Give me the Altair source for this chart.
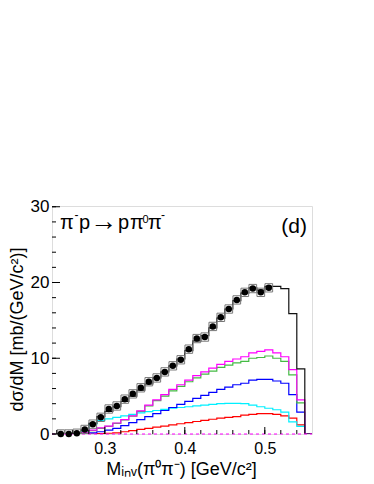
import altair as alt
import pandas as pd

# ---------------- data ----------------
BIN_W = 0.01
bin_lo = [round(0.24 + BIN_W * i, 2) for i in range(33)]  # 0.24 .. 0.56 (last two empty)

total   = [0.0, 0.0, 0.1, 0.5, 1.4, 2.3, 3.0, 3.6, 4.3, 5.0, 5.8, 6.6, 7.4, 8.2, 9.0, 9.9,
           11.0, 12.3, 13.0, 14.0, 15.3, 16.5, 17.6, 18.6, 19.3, 19.0, 19.5, 19.5, 19.2, 15.9, 8.6, 0.0, 0.0]
magenta = [0.0, 0.0, 0.05, 0.15, 0.5, 0.8, 1.05, 1.45, 1.9, 2.4, 3.05, 3.8, 4.5, 5.2, 5.9, 6.5,
           7.1, 7.7, 8.2, 8.7, 9.2, 9.6, 9.9, 10.2, 10.7, 10.9, 11.1, 10.7, 10.2, 8.5, 4.5, 0.0, 0.0]
green   = [0.0, 0.0, 0.05, 0.15, 0.45, 0.75, 1.0, 1.4, 1.85, 2.35, 3.0, 3.7, 4.4, 5.0, 5.7, 6.3,
           6.9, 7.4, 7.9, 8.3, 8.8, 9.1, 9.4, 9.6, 10.0, 10.1, 10.3, 10.0, 9.6, 7.8, 4.1, 0.0, 0.0]
blue    = [0.0, 0.0, 0.0, 0.05, 0.15, 0.3, 0.5, 0.75, 1.1, 1.5, 1.9, 2.3, 2.7, 3.1, 3.5, 3.9,
           4.3, 4.7, 5.1, 5.5, 5.9, 6.2, 6.5, 6.7, 7.1, 7.2, 7.2, 7.0, 6.7, 5.2, 2.9, 0.0, 0.0]
cyan    = [0.0, 0.0, 0.05, 0.4, 1.3, 1.8, 2.0, 2.2, 2.4, 2.6, 2.8, 2.95, 3.1, 3.25, 3.4, 3.5,
           3.6, 3.7, 3.8, 3.9, 4.0, 4.05, 4.05, 4.0, 3.8, 3.6, 3.4, 3.2, 2.9, 1.6, 1.0, 0.0, 0.0]
red     = [0.0, 0.0, 0.0, 0.0, 0.0, 0.05, 0.1, 0.15, 0.3, 0.45, 0.6, 0.75, 0.9, 1.05, 1.2, 1.35,
           1.5, 1.65, 1.8, 1.95, 2.1, 2.2, 2.3, 2.5, 2.6, 2.7, 2.7, 2.6, 2.4, 2.1, 1.2, 0.0, 0.0]

data_x = [round(0.245 + BIN_W * i, 3) for i in range(27)]
data_y = [0.0, 0.0, 0.1, 0.6, 1.3, 2.2, 3.3, 3.7, 4.6, 5.3, 6.1, 6.9, 7.4, 8.2, 9.0, 9.8,
          11.2, 12.6, 12.8, 14.2, 15.4, 16.5, 17.7, 18.7, 19.2, 18.7, 19.3]
sys_err = 0.55

x_major = [0.3, 0.4, 0.5]
x_minor = [round(0.24 + 0.02 * i, 2) for i in range(16)]
y_major = [0, 10, 20, 30]
y_minor = list(range(0, 31, 2))

series = [("red", red, "#ff0000"), ("cyan", cyan, "#00f0ff"), ("blue", blue, "#0000ff"),
          ("green", green, "#44bb44"), ("magenta", magenta, "#ff00ff"), ("total", total, "#111111")]

# reaction label pieces (ROOT-like TLatex): text, font size, left x, baseline y (px in plot area)
reac_text = ["π", "-", "p", "→", "p", "π", "0", "π", "-"]
reac_size = [20, 12, 20, 27, 20, 20, 11, 20, 12]
reac_x    = [8, 22.5, 27, 38, 66, 78, 90.5, 96, 109]
reac_y    = [23, 13, 23, 24, 23, 23, 17, 23, 13]

# ---------------- chart ----------------
W, H = 260, 228
XD = [0.234, 0.559]
YD = [0, 30.1]
FONT = "Liberation Sans"

xs = alt.Scale(domain=XD, nice=False, zero=False)
ys = alt.Scale(domain=YD, nice=False, zero=False)

hist_rows = []
for name, vals, col in series:
    for xv, yv in zip(bin_lo, vals):
        hist_rows.append({"x": xv, "y": yv, "comp": name})
hist_df = pd.DataFrame(hist_rows)

base_x = alt.X("x:Q", scale=xs,
               axis=alt.Axis(values=x_major, format=".1f", ticks=False, grid=False, domain=False,
                             labelFontSize=16, labelPadding=6, labelFont=FONT, labelColor="black",
                             title="Mᵢₙᵥ(π⁰π⁻) [GeV/c²]", titleFontSize=18, titleFont=FONT,
                             titleFontWeight="normal", titleColor="black",
                             titleX=129, titleY=35, titleBaseline="middle", titleAlign="center"))
base_y = alt.Y("y:Q", scale=ys,
               axis=alt.Axis(values=y_major, format="d", ticks=False, grid=False, domain=False,
                             labelFontSize=17, labelPadding=3, labelFont=FONT, labelColor="black",
                             title="dσ/dM [mb/(GeV/c²)]", titleFontSize=18, titleFont=FONT,
                             titleFontWeight="normal", titleColor="black", titleAngle=-90,
                             titleX=-35, titleY=123, titleBaseline="middle", titleAlign="center"))

layers = []
for name, vals, col in series:
    d = hist_df[hist_df.comp == name]
    layers.append(
        alt.Chart(d).mark_line(interpolate="step-after", color=col, strokeWidth=1.2, clip=True)
        .encode(x=base_x, y=base_y)
    )

zero_line = alt.Chart(pd.DataFrame({"y": [0]})).mark_rule(
    color="#ff00ff", strokeDash=[3, 3], strokeWidth=1).encode(
    y=alt.Y("y:Q", scale=ys), x=alt.value(0), x2=alt.value(W))

pts_df = pd.DataFrame({"x": data_x, "y": data_y})
pts_df["x0"] = pts_df.x - 0.0048
pts_df["x1"] = pts_df.x + 0.0048
pts_df["y0"] = pts_df.y - sys_err
pts_df["y1"] = pts_df.y + sys_err

boxes = alt.Chart(pts_df).mark_rect(fill=None, stroke="#777777", strokeWidth=1, clip=True).encode(
    x=alt.X("x0:Q", scale=xs), x2="x1:Q", y=alt.Y("y0:Q", scale=ys), y2="y1:Q")
dots = alt.Chart(pts_df).mark_circle(color="black", size=42, opacity=1).encode(
    x=alt.X("x:Q", scale=xs), y=alt.Y("y:Q", scale=ys))

ytick_maj = alt.Chart(pd.DataFrame({"y": y_major})).mark_rule(color="black", strokeWidth=1).encode(
    y=alt.Y("y:Q", scale=ys), x=alt.value(0), x2=alt.value(8))
ytick_min = alt.Chart(pd.DataFrame({"y": y_minor})).mark_rule(color="black", strokeWidth=1).encode(
    y=alt.Y("y:Q", scale=ys), x=alt.value(0), x2=alt.value(4))
xtick_maj = alt.Chart(pd.DataFrame({"x": x_major})).mark_rule(color="black", strokeWidth=1).encode(
    x=alt.X("x:Q", scale=xs), y=alt.value(H), y2=alt.value(H - 7))
xtick_min = alt.Chart(pd.DataFrame({"x": [v for v in x_minor if XD[0] < v < XD[1]]})).mark_rule(
    color="black", strokeWidth=1).encode(
    x=alt.X("x:Q", scale=xs), y=alt.value(H), y2=alt.value(H - 4))

reac_df = pd.DataFrame({"t": reac_text, "s": reac_size, "px": reac_x, "py": reac_y})
label_reac = alt.Chart(reac_df).mark_text(
    align="left", baseline="alphabetic", font=FONT, color="black").encode(
    text="t:N",
    x=alt.X("px:Q", scale=None), y=alt.Y("py:Q", scale=None),
    size=alt.Size("s:Q", scale=None, legend=None))
label_d = alt.Chart(pd.DataFrame({"t": ["(d)"]})).mark_text(
    align="right", baseline="alphabetic", fontSize=21, font=FONT, color="black").encode(
    text="t:N", x=alt.value(W - 5), y=alt.value(27))

chart = alt.layer(
    *layers, zero_line, boxes, dots, ytick_maj, ytick_min, xtick_maj, xtick_min, label_reac, label_d
).properties(
    width=W, height=H, autosize="none",
    padding={"left": 44, "top": 198, "right": 10, "bottom": 50},
).configure_view(stroke="black", strokeWidth=1).configure(background="white")

chart.save("out.html", embed_options={"renderer": "svg", "actions": False})
